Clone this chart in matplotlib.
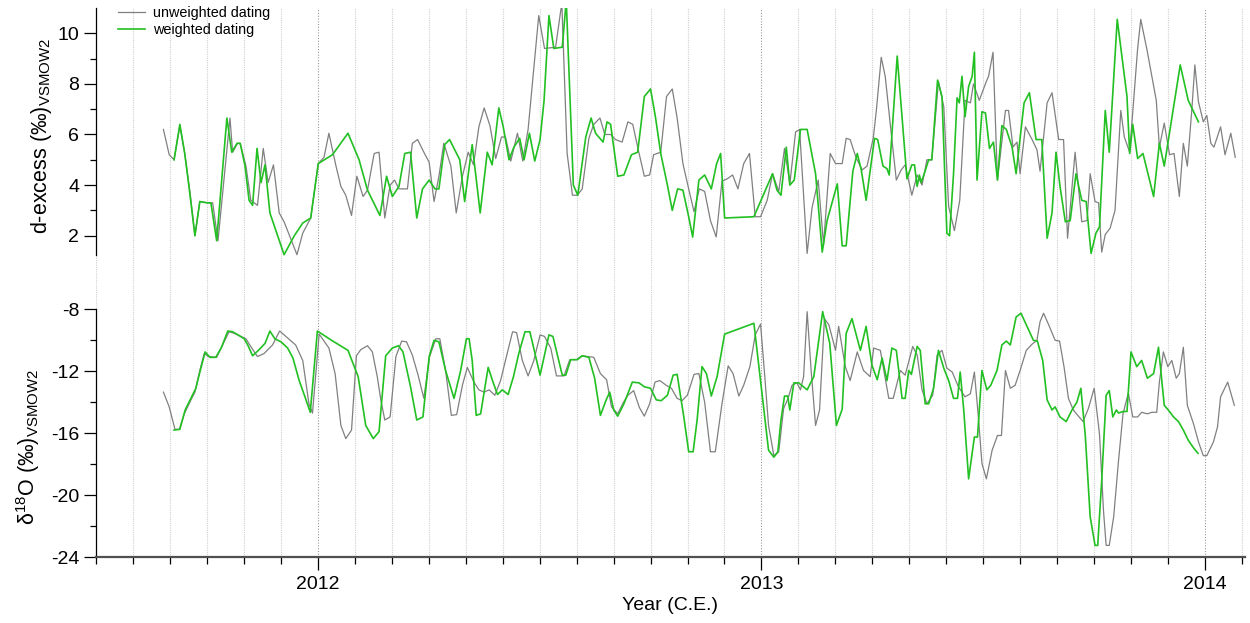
import numpy as np
import matplotlib
matplotlib.use("Agg")
import matplotlib.pyplot as plt

plt.rcParams["font.family"] = ["Liberation Sans", "DejaVu Sans"]
plt.rcParams["mathtext.fontset"] = "custom"
plt.rcParams["mathtext.rm"] = "Liberation Sans"
plt.rcParams["mathtext.it"] = "Liberation Sans:italic"
plt.rcParams["axes.unicode_minus"] = False

# d-excess, unweighted dating
xu_dex = [2011.652, 2011.665, 2011.676, 2011.689, 2011.700, 2011.712, 2011.723, 2011.734, 2011.752, 2011.763,
          2011.775, 2011.802, 2011.808, 2011.819, 2011.825, 2011.838, 2011.849, 2011.864, 2011.877, 2011.888,
          2011.900, 2011.913, 2011.924, 2011.953, 2011.966, 2011.984, 2012.001, 2012.014, 2012.025, 2012.041,
          2012.052, 2012.063, 2012.076, 2012.088, 2012.102, 2012.112, 2012.127, 2012.138, 2012.151, 2012.163,
          2012.173, 2012.183, 2012.202, 2012.213, 2012.225, 2012.239, 2012.251, 2012.262, 2012.273, 2012.284,
          2012.300, 2012.312, 2012.326, 2012.339, 2012.351, 2012.363, 2012.375, 2012.388, 2012.401, 2012.414,
          2012.423, 2012.435, 2012.450, 2012.462, 2012.474, 2012.498, 2012.511, 2012.536, 2012.550, 2012.562,
          2012.574, 2012.585, 2012.596, 2012.611, 2012.622, 2012.636, 2012.647, 2012.660, 2012.671, 2012.686,
          2012.699, 2012.710, 2012.721, 2012.736, 2012.748, 2012.757, 2012.773, 2012.786, 2012.799, 2012.810,
          2012.823, 2012.836, 2012.848, 2012.860, 2012.872, 2012.885, 2012.898, 2012.911, 2012.923, 2012.935,
          2012.947, 2012.960, 2012.973, 2012.986, 2012.998, 2013.013, 2013.025, 2013.039, 2013.052, 2013.064,
          2013.077, 2013.086, 2013.103, 2013.114, 2013.128, 2013.140, 2013.155, 2013.167, 2013.182, 2013.191,
          2013.200, 2013.213, 2013.227, 2013.238, 2013.252, 2013.259, 2013.270, 2013.279, 2013.291, 2013.304,
          2013.315, 2013.324, 2013.339, 2013.351, 2013.362, 2013.373, 2013.384, 2013.399, 2013.411, 2013.422,
          2013.435, 2013.447, 2013.459, 2013.471, 2013.478, 2013.491, 2013.507, 2013.512, 2013.522, 2013.532,
          2013.550, 2013.557, 2013.567, 2013.576, 2013.583, 2013.595, 2013.610, 2013.621, 2013.628, 2013.644,
          2013.655, 2013.670, 2013.681, 2013.690, 2013.707, 2013.722, 2013.734, 2013.741, 2013.752, 2013.760,
          2013.767, 2013.775, 2013.786, 2013.797, 2013.810, 2013.818, 2013.830, 2013.848, 2013.855, 2013.869,
          2013.890, 2013.897, 2013.908, 2013.920, 2013.930, 2013.942, 2013.951, 2013.960, 2013.970, 2013.977,
          2013.985, 2013.996, 2014.004, 2014.013, 2014.020, 2014.035, 2014.045, 2014.058, 2014.068]
dex_u = [6.2, 5.2, 5.0, 6.35, 5.25, 3.7, 2.0, 3.35, 3.3, 3.3,
         1.8, 6.65, 5.3, 5.65, 5.65, 4.75, 3.4, 3.2, 5.45, 4.1,
         4.8, 2.9, 2.55, 1.25, 2.1, 2.7, 4.85, 5.1, 6.05, 4.75,
         3.95, 3.6, 2.8, 4.35, 3.55, 3.8, 5.25, 5.3, 2.7, 4.0,
         4.2, 3.85, 3.85, 5.65, 5.8, 5.3, 4.9, 3.35, 4.35, 5.65,
         4.75, 2.9, 4.35, 5.3, 4.8, 6.3, 7.05, 6.35, 5.05, 5.9,
         5.9, 4.95, 6.05, 4.95, 6.2, 10.7, 9.4, 9.45, 11.2, 5.25,
         3.6, 3.6, 3.85, 5.85, 6.4, 6.65, 6.0, 6.0, 5.8, 5.7,
         6.5, 6.4, 5.5, 4.35, 4.4, 5.2, 5.3, 7.5, 7.8, 6.65,
         4.85, 3.85, 2.95, 3.85, 3.75, 2.6, 1.95, 4.15, 4.25, 4.4,
         3.85, 4.85, 5.25, 2.75, 2.75, 3.4, 4.45, 3.75, 5.45, 4.05,
         6.1, 6.2, 1.3, 3.1, 4.2, 1.65, 5.25, 4.85, 4.85, 5.85,
         5.8, 5.1, 4.6, 4.75, 5.85, 6.95, 9.05, 8.3, 6.3, 4.2,
         4.6, 4.8, 3.6, 4.4, 4.0, 5.0, 5.0, 8.1, 7.1, 3.15,
         2.2, 3.4, 7.35, 7.25, 8.0, 7.35, 8.1, 8.3, 9.25, 4.2,
         6.95, 6.95, 5.5, 5.7, 4.45, 6.3, 5.8, 5.4, 4.55, 7.25,
         7.65, 5.8, 5.8, 1.9, 5.3, 2.55, 2.6, 4.45, 3.35, 3.3,
         1.35, 2.05, 2.3, 3.0, 6.95, 5.9, 5.3, 9.4, 10.55, 9.35,
         7.35, 5.5, 6.45, 5.2, 5.25, 3.55, 5.65, 4.75, 6.95, 8.75,
         7.3, 6.5, 6.75, 5.65, 5.5, 6.3, 5.2, 6.05, 5.1]

# d-excess, weighted dating
xw_dex = [2011.676, 2011.689, 2011.700, 2011.712, 2011.723, 2011.734, 2011.750, 2011.759, 2011.772, 2011.795,
          2011.806, 2011.818, 2011.825, 2011.836, 2011.845, 2011.853, 2011.863, 2011.872, 2011.881, 2011.892,
          2011.924, 2011.947, 2011.966, 2011.984, 2012.001, 2012.033, 2012.068, 2012.093, 2012.112, 2012.140,
          2012.155, 2012.168, 2012.183, 2012.196, 2012.209, 2012.223, 2012.236, 2012.251, 2012.264, 2012.273,
          2012.286, 2012.297, 2012.320, 2012.331, 2012.348, 2012.366, 2012.382, 2012.393, 2012.408, 2012.418,
          2012.431, 2012.442, 2012.455, 2012.465, 2012.477, 2012.489, 2012.501, 2012.510, 2012.521, 2012.532,
          2012.551, 2012.560, 2012.576, 2012.586, 2012.604, 2012.616, 2012.626, 2012.643, 2012.652, 2012.660,
          2012.676, 2012.690, 2012.707, 2012.721, 2012.736, 2012.750, 2012.761, 2012.773, 2012.788, 2012.799,
          2012.811, 2012.823, 2012.836, 2012.845, 2012.859, 2012.872, 2012.887, 2012.899, 2012.908, 2012.917,
          2012.983, 2013.025, 2013.035, 2013.044, 2013.056, 2013.064, 2013.074, 2013.088, 2013.103, 2013.122,
          2013.137, 2013.148, 2013.171, 2013.182, 2013.191, 2013.206, 2013.216, 2013.225, 2013.236, 2013.255,
          2013.262, 2013.274, 2013.283, 2013.288, 2013.306, 2013.328, 2013.339, 2013.345, 2013.351, 2013.356,
          2013.360, 2013.367, 2013.377, 2013.384, 2013.397, 2013.407, 2013.418, 2013.424, 2013.433, 2013.441,
          2013.446, 2013.452, 2013.459, 2013.467, 2013.475, 2013.480, 2013.486, 2013.497, 2013.505, 2013.514,
          2013.523, 2013.532, 2013.542, 2013.552, 2013.565, 2013.574, 2013.592, 2013.604, 2013.619, 2013.632,
          2013.644, 2013.655, 2013.664, 2013.673, 2013.685, 2013.696, 2013.709, 2013.722, 2013.732, 2013.743,
          2013.754, 2013.762, 2013.775, 2013.784, 2013.802, 2013.824, 2013.830, 2013.837, 2013.848, 2013.860,
          2013.884, 2013.897, 2013.908, 2013.944, 2013.962, 2013.985]
dex_w = [5.0, 6.4, 5.25, 3.6, 2.0, 3.35, 3.3, 3.3, 1.8, 6.65,
         5.3, 5.65, 5.65, 4.75, 3.4, 3.2, 5.45, 4.1, 4.8, 2.9,
         1.25, 2.0, 2.5, 2.7, 4.85, 5.2, 6.05, 5.0, 3.8, 2.8,
         4.35, 3.55, 3.95, 5.25, 5.3, 2.7, 3.85, 4.2, 3.85, 3.85,
         5.6, 5.8, 5.0, 3.35, 5.6, 2.9, 5.3, 4.8, 7.05, 6.3,
         5.0, 5.5, 5.85, 5.0, 6.05, 4.95, 5.8, 7.35, 10.7, 9.4,
         9.45, 11.3, 4.0, 3.6, 5.9, 6.65, 6.05, 5.7, 6.5, 6.4,
         4.35, 4.4, 5.2, 5.3, 7.5, 7.8, 6.7, 5.25, 4.0, 3.0,
         3.85, 3.8, 2.75, 1.95, 4.2, 4.4, 3.85, 4.85, 5.25, 2.7,
         2.75, 4.45, 3.8, 3.6, 5.5, 4.0, 4.2, 6.2, 6.2, 4.45,
         1.35, 2.6, 4.05, 1.6, 1.6, 4.55, 5.25, 4.6, 3.4, 5.85,
         5.8, 4.75, 4.65, 4.4, 9.1, 4.25, 4.8, 4.8, 3.95, 4.4,
         4.1, 4.45, 5.0, 5.0, 8.15, 7.5, 2.1, 2.0, 4.45, 7.45,
         7.25, 8.3, 6.7, 7.9, 8.3, 9.25, 4.2, 6.9, 6.85, 5.45,
         5.7, 4.2, 6.35, 6.2, 5.5, 4.45, 7.25, 7.65, 5.8, 5.8,
         1.9, 2.9, 5.3, 3.95, 2.55, 2.6, 4.45, 3.4, 3.35, 1.3,
         2.1, 2.35, 6.95, 5.3, 10.55, 7.5, 5.25, 6.4, 5.05, 5.25,
         3.55, 5.65, 4.75, 8.75, 7.35, 6.5]

# d18O, unweighted dating
xu_d18o = [2011.652, 2011.665, 2011.678, 2011.688, 2011.699, 2011.714, 2011.723, 2011.734, 2011.744, 2011.753,
           2011.772, 2011.787, 2011.800, 2011.812, 2011.827, 2011.838, 2011.851, 2011.864, 2011.879, 2011.898,
           2011.914, 2011.928, 2011.950, 2011.966, 2011.980, 2011.988, 2012.003, 2012.025, 2012.039, 2012.052,
           2012.063, 2012.076, 2012.087, 2012.097, 2012.112, 2012.123, 2012.134, 2012.142, 2012.151, 2012.163,
           2012.176, 2012.189, 2012.200, 2012.213, 2012.226, 2012.239, 2012.252, 2012.266, 2012.275, 2012.288,
           2012.301, 2012.313, 2012.326, 2012.337, 2012.352, 2012.363, 2012.375, 2012.386, 2012.399, 2012.412,
           2012.423, 2012.439, 2012.448, 2012.461, 2012.474, 2012.487, 2012.501, 2012.511, 2012.525, 2012.538,
           2012.555, 2012.568, 2012.583, 2012.596, 2012.622, 2012.637, 2012.651, 2012.662, 2012.676, 2012.689,
           2012.699, 2012.712, 2012.725, 2012.736, 2012.748, 2012.760, 2012.771, 2012.785, 2012.797, 2012.810,
           2012.821, 2012.833, 2012.848, 2012.859, 2012.872, 2012.885, 2012.896, 2012.911, 2012.925, 2012.936,
           2012.949, 2012.960, 2012.974, 2012.986, 2012.998, 2013.007, 2013.016, 2013.028, 2013.039, 2013.050,
           2013.060, 2013.069, 2013.080, 2013.088, 2013.095, 2013.103, 2013.112, 2013.122, 2013.131, 2013.142,
           2013.152, 2013.167, 2013.174, 2013.189, 2013.200, 2013.216, 2013.230, 2013.245, 2013.253, 2013.268,
           2013.287, 2013.297, 2013.313, 2013.324, 2013.341, 2013.351, 2013.362, 2013.373, 2013.386, 2013.396,
           2013.407, 2013.418, 2013.430, 2013.444, 2013.459, 2013.471, 2013.480, 2013.489, 2013.497, 2013.507,
           2013.520, 2013.532, 2013.541, 2013.550, 2013.561, 2013.572, 2013.583, 2013.597, 2013.610, 2013.621,
           2013.628, 2013.636, 2013.649, 2013.662, 2013.672, 2013.682, 2013.692, 2013.703, 2013.713, 2013.725,
           2013.737, 2013.750, 2013.762, 2013.771, 2013.777, 2013.784, 2013.794, 2013.805, 2013.815, 2013.827,
           2013.837, 2013.848, 2013.857, 2013.870, 2013.880, 2013.891, 2013.897, 2013.906, 2013.916, 2013.925,
           2013.935, 2013.942, 2013.951, 2013.960, 2013.974, 2013.985, 2013.996, 2014.004, 2014.019, 2014.028,
           2014.035, 2014.051, 2014.066]
d18o_u = [-13.35, -14.3, -15.75, -15.75, -14.75, -13.85, -13.35, -11.95, -10.85, -11.05,
          -11.1, -10.2, -9.45, -9.55, -9.75, -9.9, -10.5, -11.05, -10.85, -10.3,
          -9.4, -9.75, -10.3, -11.3, -14.1, -14.7, -9.6, -10.5, -12.15, -15.5,
          -16.35, -15.8, -11.0, -10.6, -10.35, -10.75, -12.35, -13.85, -15.15, -14.95,
          -11.05, -10.05, -10.1, -10.95, -12.25, -13.75, -11.05, -9.9, -9.9, -11.95,
          -14.85, -14.8, -12.9, -11.75, -12.7, -13.2, -13.35, -13.2, -13.55, -12.6,
          -11.3, -9.45, -9.5, -11.3, -12.3, -11.3, -9.65, -9.75, -10.5, -12.3,
          -12.3, -11.25, -11.25, -11.0, -11.1, -12.15, -12.55, -14.3, -14.75, -14.0,
          -13.55, -13.25, -14.35, -14.9, -14.1, -12.7, -12.6, -12.9, -13.1, -13.75,
          -13.9, -13.55, -12.2, -12.15, -14.0, -17.2, -17.2, -14.1, -11.65, -12.15,
          -13.6, -12.9, -11.7, -9.65, -8.95, -12.15, -15.5, -17.45, -17.2, -14.4,
          -13.75, -12.9, -12.75, -13.2, -12.35, -8.15, -11.95, -15.5, -14.5, -8.6,
          -9.0, -10.65, -9.1, -11.7, -12.6, -10.75, -11.95, -12.35, -10.5, -10.65,
          -13.75, -13.75, -11.95, -12.25, -10.4, -10.95, -13.2, -14.1, -13.55, -10.95,
          -10.65, -11.8, -12.05, -13.0, -13.65, -13.45, -12.05, -14.95, -17.95, -18.95,
          -17.1, -16.15, -16.15, -11.95, -13.1, -12.9, -11.95, -10.65, -10.25, -10.0,
          -8.8, -8.25, -9.1, -10.0, -10.05, -11.7, -13.75, -14.5, -14.85, -15.25,
          -14.4, -13.1, -16.05, -21.0, -23.25, -23.25, -21.4, -17.75, -14.75, -13.4,
          -14.95, -14.95, -14.65, -14.75, -14.65, -14.65, -12.7, -10.75, -11.7, -11.3,
          -12.45, -12.15, -10.45, -14.2, -15.4, -16.55, -17.45, -17.45, -16.55, -15.6,
          -13.65, -12.7, -14.2]

# d18O, weighted dating
xw_d18o = [2011.676, 2011.689, 2011.701, 2011.714, 2011.725, 2011.735, 2011.746, 2011.757, 2011.770, 2011.783,
           2011.797, 2011.808, 2011.820, 2011.834, 2011.842, 2011.853, 2011.866, 2011.881, 2011.892, 2011.903,
           2011.917, 2011.932, 2011.944, 2011.958, 2011.971, 2011.983, 2011.999, 2012.031, 2012.068, 2012.091,
           2012.108, 2012.125, 2012.138, 2012.153, 2012.168, 2012.182, 2012.192, 2012.209, 2012.223, 2012.237,
           2012.251, 2012.262, 2012.273, 2012.288, 2012.307, 2012.322, 2012.335, 2012.341, 2012.348, 2012.357,
           2012.367, 2012.384, 2012.395, 2012.405, 2012.416, 2012.429, 2012.441, 2012.453, 2012.467, 2012.478,
           2012.491, 2012.501, 2012.521, 2012.530, 2012.551, 2012.559, 2012.570, 2012.585, 2012.596, 2012.611,
           2012.624, 2012.637, 2012.650, 2012.658, 2012.667, 2012.676, 2012.690, 2012.709, 2012.724, 2012.736,
           2012.750, 2012.763, 2012.774, 2012.788, 2012.801, 2012.810, 2012.825, 2012.836, 2012.846, 2012.855,
           2012.866, 2012.876, 2012.887, 2012.900, 2012.917, 2012.983, 2013.016, 2013.028, 2013.037, 2013.044,
           2013.052, 2013.059, 2013.064, 2013.073, 2013.084, 2013.103, 2013.118, 2013.138, 2013.154, 2013.169,
           2013.182, 2013.191, 2013.204, 2013.223, 2013.236, 2013.249, 2013.261, 2013.272, 2013.283, 2013.294,
           2013.304, 2013.317, 2013.324, 2013.332, 2013.338, 2013.351, 2013.358, 2013.369, 2013.377, 2013.388,
           2013.399, 2013.411, 2013.422, 2013.433, 2013.442, 2013.448, 2013.456, 2013.467, 2013.480, 2013.487,
           2013.497, 2013.508, 2013.517, 2013.531, 2013.542, 2013.552, 2013.561, 2013.574, 2013.585, 2013.597,
           2013.613, 2013.622, 2013.634, 2013.644, 2013.655, 2013.662, 2013.673, 2013.687, 2013.700, 2013.711,
           2013.720, 2013.730, 2013.741, 2013.752, 2013.758, 2013.767, 2013.777, 2013.784, 2013.792, 2013.800,
           2013.805, 2013.815, 2013.824, 2013.833, 2013.846, 2013.857, 2013.870, 2013.884, 2013.895, 2013.908,
           2013.917, 2013.929, 2013.940, 2013.951, 2013.962, 2013.974, 2013.984]
d18o_w = [-15.8, -15.75, -14.5, -13.75, -13.1, -11.95, -10.75, -11.1, -11.1, -10.45,
          -9.4, -9.45, -9.65, -9.9, -10.3, -11.0, -10.65, -10.2, -9.4, -9.9,
          -10.1, -10.5, -11.15, -12.6, -13.65, -14.65, -9.4, -10.0, -10.65, -12.35,
          -15.5, -16.35, -15.9, -11.0, -10.5, -10.35, -10.75, -13.0, -15.15, -14.95,
          -11.05, -10.0, -10.1, -11.95, -13.75, -11.95, -9.9, -9.9, -11.3, -14.85,
          -14.75, -11.75, -12.7, -13.5, -13.2, -13.5, -12.35, -10.85, -9.45, -9.45,
          -11.05, -12.25, -9.65, -9.75, -12.25, -12.25, -11.25, -11.25, -11.0, -11.1,
          -12.45, -14.85, -13.85, -13.35, -14.5, -14.9, -14.1, -12.7, -12.75, -13.0,
          -13.1, -13.85, -13.9, -13.55, -12.25, -12.2, -14.95, -17.2, -17.2, -15.15,
          -11.7, -12.15, -13.6, -12.35, -9.6, -8.9, -17.1, -17.55, -17.2, -15.15,
          -13.6, -13.6, -14.5, -12.75, -12.75, -13.2, -12.35, -8.15, -10.2, -15.5,
          -14.45, -9.55, -8.6, -10.65, -9.1, -11.6, -12.55, -11.15, -12.6, -10.5,
          -10.65, -13.75, -13.75, -11.95, -12.2, -10.4, -10.65, -14.1, -14.1, -13.1,
          -10.65, -11.8, -12.6, -13.75, -13.75, -12.05, -14.5, -18.95, -16.25, -16.25,
          -11.95, -13.2, -12.9, -11.95, -10.3, -10.05, -10.3, -8.5, -8.25, -9.0,
          -10.0, -10.05, -11.3, -13.85, -14.5, -14.3, -14.95, -15.25, -14.5, -14.0,
          -13.1, -16.15, -21.4, -23.25, -23.25, -19.05, -13.55, -13.25, -14.95, -14.5,
          -14.7, -14.6, -14.6, -10.75, -11.7, -11.3, -12.45, -12.15, -10.45, -14.2,
          -14.5, -14.95, -15.25, -15.8, -16.45, -16.95, -17.3]

year_ticks = [2012, 2013, 2014]
year_labels = ["2012", "2013", "2014"]
month_ticks = [2011.5 + k / 12 for k in range(32)]

GRAY = "#808080"
GREEN = "#22c022"

fig = plt.figure(figsize=(12.5, 6.23), dpi=100)
ax1 = fig.add_axes([0.0768, 0.5457, 0.9192, 0.4415])
ax2 = fig.add_axes([0.0768, 0.1059, 0.9192, 0.4398])

for ax in (ax1, ax2):
    ax.set_xlim(2011.5, 2014.09)
    for m in month_ticks:
        if abs(m - round(m)) < 1e-6:
            ax.axvline(m, color="#9a9a9a", lw=0.8, ls=(0, (1, 1.5)), zorder=0)
        else:
            ax.axvline(m, color="#d0d0d0", lw=0.8, ls=(0, (1, 1)), zorder=0)
    ax.spines["top"].set_visible(False)
    ax.spines["right"].set_visible(False)
    ax.spines["left"].set_linewidth(0.9)
    ax.tick_params(axis="y", which="major", length=8.5, width=0.9, labelsize=14, pad=3.5)
    ax.tick_params(axis="y", which="minor", length=4.3, width=0.9)
    ax.set_facecolor("none")

# top panel: d-excess
ax1.plot(xu_dex, dex_u, color=GRAY, lw=0.9, label="unweighted dating")
ax1.plot(xw_dex, dex_w, color=GREEN, lw=1.2, label="weighted dating")
ax1.set_ylim(0.13, 11.0)
ax1.spines["left"].set_bounds(1.25, 11.0)
ax1.spines["bottom"].set_visible(False)
ax1.set_yticks([2, 4, 6, 8, 10])
ax1.set_yticks([3, 5, 7, 9], minor=True)
ax1.tick_params(axis="x", which="both", bottom=False, labelbottom=False)

# bottom panel: d18O
ax2.plot(xu_d18o, d18o_u, color=GRAY, lw=0.9)
ax2.plot(xw_d18o, d18o_w, color=GREEN, lw=1.2)
ax2.set_ylim(-24, -6.3)
ax2.spines["left"].set_bounds(-24, -8)
ax2.spines["bottom"].set_linewidth(1.6)
ax2.spines["bottom"].set_color("#505050")
ax2.set_yticks([-8, -12, -16, -20, -24])
ax2.set_yticks([-10, -14, -18, -22], minor=True)
ax2.set_xticks(year_ticks)
ax2.set_xticklabels(year_labels)
ax2.set_xticks([m for m in month_ticks if abs(m - round(m)) > 1e-6], minor=True)
ax2.tick_params(axis="x", which="major", length=9.5, width=0.9, labelsize=14, pad=4)
ax2.tick_params(axis="x", which="minor", length=5, width=0.9)

fig.text(0.0768 + 0.9192 / 2, 0.028, "Year (C.E.)", ha="center", va="center", fontsize=14)
fig.text(42 / 1250, 1 - 136 / 623, "d-excess (‰)$_{\\mathrm{VSMOW2}}$",
         rotation=90, ha="center", va="center", fontsize=15.5)
fig.text(28 / 1250, 1 - 447 / 623, "δ$^{\\mathrm{18}}$O (‰)$_{\\mathrm{VSMOW2}}$",
         rotation=90, ha="center", va="center", fontsize=15.5)

fig.legend(loc="upper left", bbox_to_anchor=(118 / 1250, 1 - 6 / 623), frameon=False,
           fontsize=10.4, handlelength=1.9, handletextpad=0.5, labelspacing=0.2,
           borderpad=0, borderaxespad=0)

fig.savefig("out.png", dpi=100)
